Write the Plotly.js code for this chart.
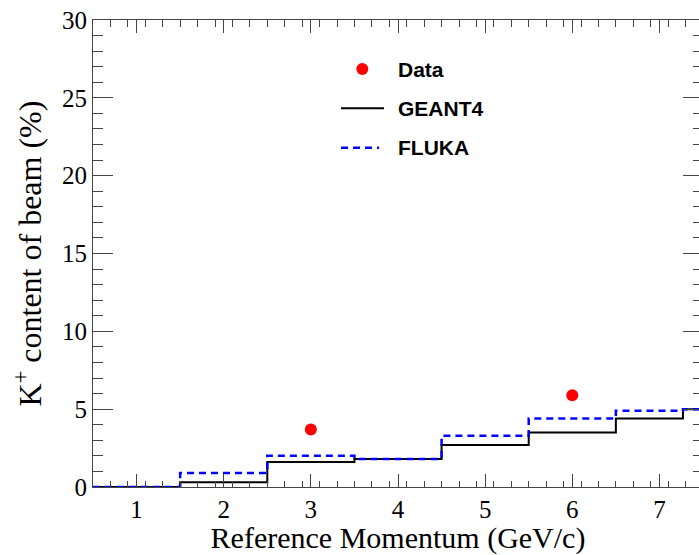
<!DOCTYPE html>
<html>
<head>
<meta charset="utf-8">
<script src="https://cdn.plot.ly/plotly-3.0.1.min.js"></script>
<style>
  html, body { margin: 0; padding: 0; overflow: hidden; background: #fff; }
  #chart { width: 703px; height: 555px; }
</style>
</head>
<body>
<div id="chart"></div>
<script>
// ---- data ----
const binEdges = [0.5, 1.5, 2.5, 3.5, 4.5, 5.5, 6.5, 7.27, 7.5];
const geant4 = [0.0, 0.3, 1.6, 1.8, 2.7, 3.5, 4.4, 5.0];
const fluka  = [0.0, 0.9, 2.0, 1.8, 3.3, 4.4, 4.9, 5.0];
const dataX = [3, 6];
const dataY = [3.7, 5.9];
const xTicks = [1, 2, 3, 4, 5, 6, 7];
const yTicks = [0, 5, 10, 15, 20, 25, 30];
const legendLabels = ["Data", "GEANT4", "FLUKA"];

function stepY(vals) { return vals.concat([vals[vals.length - 1]]); }

const serif = "Liberation Serif, Times New Roman, serif";
const sans = "Liberation Sans, Arial, Helvetica, sans-serif";

const traces = [
  {
    x: binEdges, y: stepY(geant4), type: "scatter", mode: "lines",
    line: { shape: "hv", color: "#000000", width: 2 },
    showlegend: false, hoverinfo: "skip"
  },
  {
    x: binEdges, y: stepY(fluka), type: "scatter", mode: "lines",
    line: { shape: "hv", color: "#0000ff", width: 2.5, dash: "7px,5px" },
    showlegend: false, hoverinfo: "skip"
  },
  {
    x: dataX, y: dataY, type: "scatter", mode: "markers",
    marker: { color: "#ff0000", size: 12, symbol: "circle" },
    showlegend: false
  }
];

const axisCommon = {
  showgrid: false, zeroline: false,
  showline: true, linecolor: "#444", linewidth: 1,
  mirror: "ticks", ticks: "inside", tickcolor: "#444", tickwidth: 1,
  tickfont: { family: serif, size: 25, color: "#000" },
  fixedrange: true
};

// legend geometry (paper coords)
const lgX0 = 0.4066, lgX1 = 0.4770, lgDot = 0.4415, lgText = 0.4967;
const lgRows = [0.895, 0.811, 0.7266];

const layout = {
  width: 703, height: 555,
  margin: { l: 93, r: 0, t: 20, b: 68 },
  paper_bgcolor: "#ffffff", plot_bgcolor: "#ffffff",
  showlegend: false,
  xaxis: Object.assign({}, axisCommon, {
    range: [0.5, 7.5], tickmode: "array", tickvals: xTicks,
    ticktext: xTicks.map(String), ticklen: 13,
    minor: { dtick: 0.2, tick0: 0.5, ticks: "inside", ticklen: 6.5, tickcolor: "#444", tickwidth: 1 },
    title: { text: "Reference Momentum (GeV/c)", font: { family: serif, size: 30, color: "#000" }, standoff: 9 },
    automargin: false
  }),
  yaxis: Object.assign({}, axisCommon, {
    range: [0, 30], tickmode: "array", tickvals: yTicks,
    ticktext: yTicks.map(String), ticklen: 20,
    minor: { dtick: 1, tick0: 0, ticks: "inside", ticklen: 10, tickcolor: "#444", tickwidth: 1 },
    title: { text: "K<sup>+</sup> content of beam (%)", font: { family: serif, size: 32, color: "#000" }, standoff: 10 },
    automargin: false
  }),
  shapes: [
    { type: "circle", xref: "paper", yref: "paper", xsizemode: "pixel", ysizemode: "pixel",
      xanchor: lgDot, yanchor: lgRows[0], x0: -6, x1: 6, y0: -6, y1: 6,
      fillcolor: "#ff0000", line: { width: 0 } },
    { type: "line", xref: "paper", yref: "paper", x0: lgX0, x1: lgX1, y0: lgRows[1], y1: lgRows[1],
      line: { color: "#000000", width: 2 } },
    { type: "line", xref: "paper", yref: "paper", x0: lgX0, x1: lgX1 - 0.008, y0: lgRows[2], y1: lgRows[2],
      line: { color: "#0000ff", width: 2.5, dash: "7px,5px" } }
  ],
  annotations: legendLabels.map((t, i) => ({
    text: "<b>" + t + "</b>", xref: "paper", yref: "paper",
    x: lgText, y: lgRows[i], xanchor: "left", yanchor: "middle",
    showarrow: false, font: { family: sans, size: 21, color: "#000" }
  }))
};

Plotly.newPlot("chart", traces, layout, { staticPlot: true, displayModeBar: false });
</script>
</body>
</html>
